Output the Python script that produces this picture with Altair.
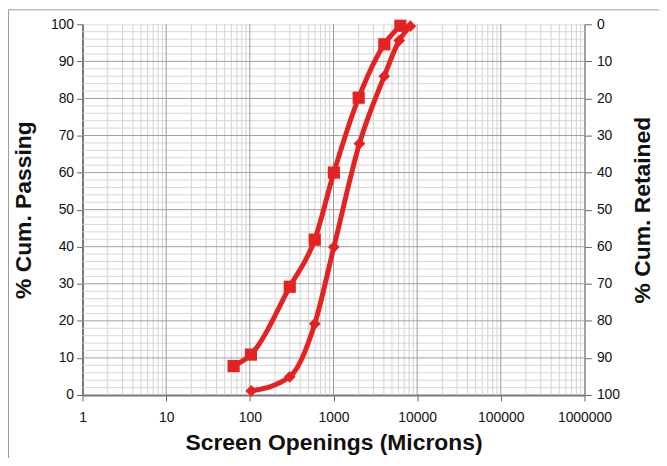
import altair as alt
import pandas as pd

# --- data ---
sq_x = [64, 103, 300, 597, 1010, 2000, 4050, 6300]
sq_y = [7.8, 10.9, 29.2, 41.9, 60, 80.2, 94.6, 99.6]
dm_x = [104, 300, 597, 1010, 2040, 4050, 6100, 8300]
dm_y = [1.1, 4.9, 19.2, 39.9, 67.8, 86, 95.6, 99.5]

x_major = [10, 100, 1000, 10000, 100000]
x_minor = [m * 10 ** k for k in range(6) for m in range(2, 10)]
y_major = [10, 20, 30, 40, 50, 60, 70, 80, 90]
y_minor = [v for v in range(2, 100, 2) if v % 10 != 0]
x_ticks = [1, 10, 100, 1000, 10000, 100000, 1000000]
y_ticks = list(range(0, 101, 10))

W, H = 505, 373
RED = "#E32322"
FONT = "Liberation Sans"

xscale = alt.Scale(type="log", domain=[1, 1000000], nice=False)
yscale = alt.Scale(domain=[0, 100], nice=False)

xaxis = alt.Axis(values=x_ticks, format=".0f", title="Screen Openings (Microns)",
                 grid=False, tickSize=6, tickColor="#666", domainColor="#777",
                 domainWidth=2, labelFontSize=14, labelPadding=10, labelFlush=False,
                 labelOverlap=False,
                 titleFontSize=23, titleFontWeight="bold", titlePadding=7,
                 labelColor="#111", titleColor="#111", labelFont=FONT, titleFont=FONT)
yaxis = alt.Axis(values=y_ticks, title="% Cum. Passing", grid=False, tickSize=6,
                 tickColor="#666", domainColor="#777", domainWidth=2,
                 labelFontSize=14, labelPadding=3, labelFlush=False, titleFontSize=23,
                 titleFontWeight="bold", titlePadding=15, labelColor="#111",
                 titleColor="#111", labelFont=FONT, titleFont=FONT)

def X():
    return alt.X("x:Q", scale=xscale, axis=xaxis)

def Y():
    return alt.Y("y:Q", scale=yscale, axis=yaxis)

vminor = alt.Chart(pd.DataFrame({"x": x_minor})).mark_rule(
    color="#d2d2d2", strokeWidth=1).encode(x=X())
vmajor = alt.Chart(pd.DataFrame({"x": x_major})).mark_rule(
    color="#9a9a9a", strokeWidth=1).encode(x=X())
hminor = alt.Chart(pd.DataFrame({"y": y_minor})).mark_rule(
    color="#d8d8d8", strokeWidth=1).encode(y=Y())
hmajor = alt.Chart(pd.DataFrame({"y": y_major})).mark_rule(
    color="#a0a0a0", strokeWidth=1).encode(y=Y())

sq = pd.DataFrame({"x": sq_x, "y": sq_y})
dm = pd.DataFrame({"x": dm_x, "y": dm_y})

sq_line = alt.Chart(sq).mark_line(color=RED, strokeWidth=5, interpolate="monotone").encode(
    x=X(), y=Y())
sq_pts = alt.Chart(sq).mark_point(shape="square", filled=True, color=RED, size=150,
                                  opacity=1).encode(x=X(), y=Y())
dm_line = alt.Chart(dm).mark_line(color=RED, strokeWidth=5, interpolate="monotone").encode(
    x=X(), y=Y())
dm_pts = alt.Chart(dm).mark_point(shape="diamond", filled=True, color=RED, size=140,
                                  opacity=1).encode(x=X(), y=Y())

frame_top = alt.Chart(pd.DataFrame({"a": [0]})).mark_rule(color="#9a9a9a", strokeWidth=1).encode(
    x=alt.value(-74.5), x2=alt.value(W + 90), y=alt.value(-14.5))
frame_left = alt.Chart(pd.DataFrame({"a": [0]})).mark_rule(color="#9a9a9a", strokeWidth=1).encode(
    x=alt.value(-74.5), y=alt.value(-14.5), y2=alt.value(H + 90))

main = alt.layer(vminor, hminor, vmajor, hmajor, frame_top, frame_left,
                 dm_line, sq_line, dm_pts, sq_pts)

right = alt.Chart(pd.DataFrame({"r": y_ticks})).mark_tick(opacity=0).encode(
    y=alt.Y("r:Q", scale=alt.Scale(domain=[0, 100], reverse=True, nice=False),
            axis=alt.Axis(orient="right", values=y_ticks, title="% Cum. Retained",
                          grid=False, tickSize=7, tickColor="#666", domainColor="#888",
                          domainWidth=1.5, labelFontSize=14, labelPadding=5,
                          labelFlush=False,
                          titleFontSize=23, titleFontWeight="bold", titleAngle=270,
                          titlePadding=35, labelColor="#111", titleColor="#111",
                          labelFont=FONT, titleFont=FONT)))

chart = alt.layer(main, right).resolve_scale(y="independent").properties(
    width=W, height=H,
    autosize=alt.AutoSizeParams(type="none"),
    padding={"left": 75, "top": 15, "right": 75, "bottom": 62},
).configure_view(stroke="#888", strokeWidth=1.5).configure(background="white")

chart.save("out.html", embed_options={"renderer": "svg", "actions": False})
